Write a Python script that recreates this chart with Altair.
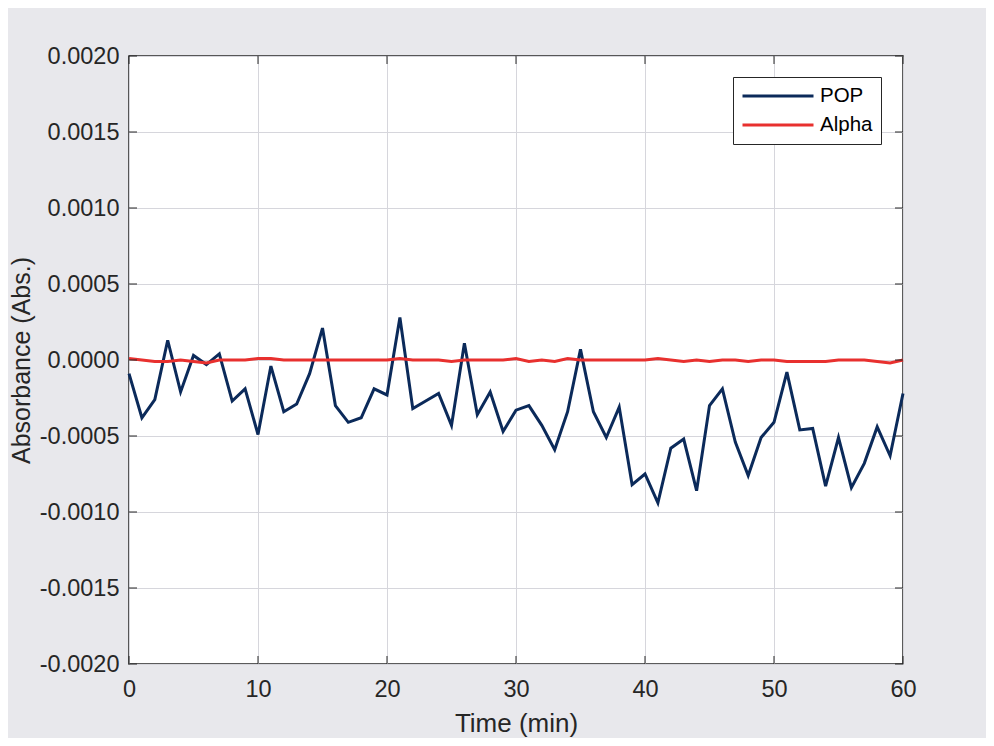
import altair as alt
import pandas as pd

time_min = list(range(0, 61))

pop = [-0.00009, -0.00038, -0.00026, 0.00013, -0.00021, 0.00003, -0.00003, 0.00004, -0.00027, -0.00019,
       -0.00049, -0.00004, -0.00034, -0.00029, -0.00009, 0.00021, -0.00030, -0.00041, -0.00038, -0.00019,
       -0.00023, 0.00028, -0.00032, -0.00027, -0.00022, -0.00043, 0.00011, -0.00036, -0.00021, -0.00047,
       -0.00033, -0.00030, -0.00043, -0.00059, -0.00034, 0.00007, -0.00034, -0.00051, -0.00031, -0.00082,
       -0.00075, -0.00094, -0.00058, -0.00052, -0.00086, -0.00030, -0.00019, -0.00054, -0.00076, -0.00051,
       -0.00041, -0.00008, -0.00046, -0.00045, -0.00083, -0.00051, -0.00084, -0.00068, -0.00044, -0.00063,
       -0.00022]

alpha = [0.00001, 0.00000, -0.00001, -0.00001, 0.00000, -0.00001, -0.00002, 0.00000, 0.00000, 0.00000,
         0.00001, 0.00001, 0.00000, 0.00000, 0.00000, 0.00000, 0.00000, 0.00000, 0.00000, 0.00000,
         0.00000, 0.00001, 0.00000, 0.00000, 0.00000, -0.00001, 0.00000, 0.00000, 0.00000, 0.00000,
         0.00001, -0.00001, 0.00000, -0.00001, 0.00001, 0.00000, 0.00000, 0.00000, 0.00000, 0.00000,
         0.00000, 0.00001, 0.00000, -0.00001, 0.00000, -0.00001, 0.00000, 0.00000, -0.00001, 0.00000,
         0.00000, -0.00001, -0.00001, -0.00001, -0.00001, 0.00000, 0.00000, 0.00000, -0.00001, -0.00002,
         0.00000]

series_names = ["POP", "Alpha"]
series_colors = ["#0b2a5a", "#e8302e"]
x_ticks = [0, 10, 20, 30, 40, 50, 60]
y_ticks = [-0.002, -0.0015, -0.001, -0.0005, 0.0, 0.0005, 0.001, 0.0015, 0.002]

df = pd.concat([
    pd.DataFrame({"time": time_min, "value": pop, "series": "POP"}),
    pd.DataFrame({"time": time_min, "value": alpha, "series": "Alpha"}),
])
df_xt = pd.DataFrame({"t": x_ticks})
df_yt = pd.DataFrame({"v": y_ticks})

W, H = 774, 608
TXT = "#262626"
FONT = "Liberation Sans"

xscale = alt.Scale(domain=[0, 60], nice=False)
yscale = alt.Scale(domain=[-0.002, 0.002], nice=False)

lines = alt.Chart(df).mark_line(strokeWidth=3).encode(
    x=alt.X("time:Q", scale=xscale,
            axis=alt.Axis(title="Time (min)", values=x_ticks, grid=True, tickSize=0,
                          labelPadding=13, titlePadding=10, domain=False, labelFlush=False)),
    y=alt.Y("value:Q", scale=yscale,
            axis=alt.Axis(title="Absorbance (Abs.)", values=y_ticks, grid=True, tickSize=0,
                          labelPadding=10, titlePadding=5, titleFontSize=25,
                          domain=False, labelFlush=False,
                          labelExpr="replace(format(datum.value, '.4f'), '\u2212', '-')")),
    color=alt.Color("series:N",
                    scale=alt.Scale(domain=series_names, range=series_colors),
                    sort=series_names,
                    legend=alt.Legend(title=None, orient="none", legendX=604, legendY=21,
                                      symbolType="stroke", symbolSize=5041, symbolStrokeWidth=3,
                                      clipHeight=22, rowPadding=7, padding=8, labelOffset=5,
                                      labelFontSize=20.5, labelFont=FONT, labelColor="#000000",
                                      strokeColor="#262626", fillColor="#ffffff")),
)

tick_x_bottom = alt.Chart(df_xt).mark_rule(color=TXT, strokeWidth=1).encode(
    x=alt.X("t:Q", scale=xscale), y=alt.value(H), y2=alt.value(H - 8))
tick_x_top = alt.Chart(df_xt).mark_rule(color=TXT, strokeWidth=1).encode(
    x=alt.X("t:Q", scale=xscale), y=alt.value(0), y2=alt.value(8))
tick_y_left = alt.Chart(df_yt).mark_rule(color=TXT, strokeWidth=1).encode(
    y=alt.Y("v:Q", scale=yscale), x=alt.value(0), x2=alt.value(8))
tick_y_right = alt.Chart(df_yt).mark_rule(color=TXT, strokeWidth=1).encode(
    y=alt.Y("v:Q", scale=yscale), x=alt.value(W), x2=alt.value(W - 8))

chart = alt.layer(lines, tick_x_bottom, tick_x_top, tick_y_left, tick_y_right).properties(
    width=W, height=H,
    autosize=alt.AutoSizeParams(type="none"),
    padding={"left": 121, "top": 48, "right": 83, "bottom": 74},
    background="#e8e8ec",
).configure_view(
    fill="#ffffff", stroke=TXT, strokeWidth=1.5
).configure_axis(
    labelFont=FONT, titleFont=FONT, labelFontSize=23.5, titleFontSize=26,
    labelColor=TXT, titleColor=TXT, titleFontWeight="normal",
    gridColor="#d6d6dc", gridWidth=1,
)

chart.save("out.html", embed_options={"renderer": "svg", "actions": False})
